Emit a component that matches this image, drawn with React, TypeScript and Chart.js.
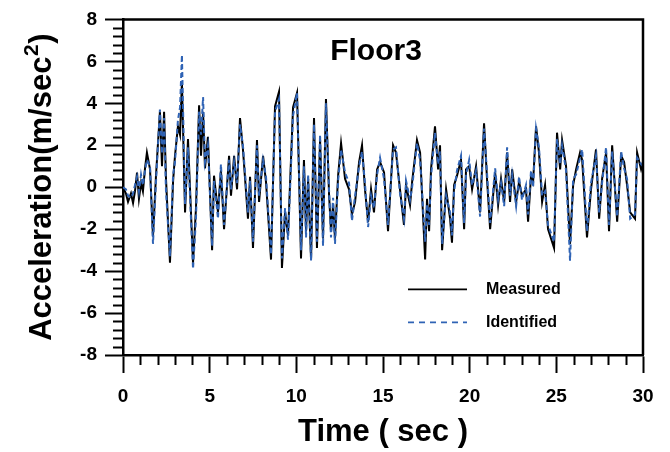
import React, { useEffect, useRef } from "react";
import { Chart, registerables } from "chart.js";

Chart.register(...registerables);

const times: number[] = [
  0, 0.17, 0.29, 0.46, 0.58, 0.69, 0.81, 0.92, 1.04, 1.15, 1.27, 1.38, 1.56, 1.73, 1.9,
  2.13, 2.25, 2.37, 2.48, 2.71, 2.89, 3.0, 3.17, 3.29, 3.4, 3.58, 3.75, 4.04, 4.21, 4.39,
  4.5, 4.62, 4.73, 4.9, 5.14, 5.25, 5.48, 5.65, 5.83, 6.12, 6.23, 6.41, 6.58, 6.75, 6.92,
  7.21, 7.33, 7.5, 7.73, 7.85, 8.08, 8.25, 8.54, 8.77, 9.0, 9.17, 9.35, 9.52, 9.81, 10.04,
  10.27, 10.44, 10.56, 10.68, 10.85, 11.02, 11.19, 11.37, 11.54, 11.71, 11.89, 12.0, 12.12,
  12.23, 12.41, 12.58, 12.81, 13.04, 13.21, 13.39, 13.62, 13.79, 13.96, 14.14, 14.31, 14.48,
  14.66, 14.83, 15.06, 15.29, 15.58, 15.75, 15.98, 16.21, 16.33, 16.56, 16.68, 16.96, 17.14,
  17.43, 17.54, 17.66, 17.77, 18.0, 18.18, 18.29, 18.41, 18.64, 18.87, 18.98, 19.1, 19.27,
  19.5, 19.68, 19.79, 19.97, 20.14, 20.37, 20.6, 20.83, 21.0, 21.18, 21.47, 21.64, 21.81,
  21.99, 22.16, 22.33, 22.45, 22.68, 22.85, 23.02, 23.25, 23.37, 23.54, 23.66, 23.83, 24.0,
  24.18, 24.35, 24.52, 24.87, 25.04, 25.22, 25.33, 25.56, 25.79, 25.97, 26.14, 26.37, 26.49,
  26.77, 27.0, 27.29, 27.47, 27.64, 27.87, 28.04, 28.22, 28.51, 28.74, 28.91, 29.08, 29.26,
  29.54, 29.66, 29.89, 30.0,
];

const measured: number[] = [
  0, -0.3, -0.7, -0.3, -0.75, -0.2, 0.7, -0.55, 0.2, -0.2, 0.9, 1.65, 0.85, -2.35, 0.5,
  3.6, 1.0, 3.6, 0.4, -3.6, 0.3, 1.5, 2.9, 2.5, 5.0, -1.2, 2.3, -3.6, -1.0, 3.9,
  1.5, 3.6, 0.9, 2.4, -3.0, 0.55, -1.2, 0.8, -2.0, 1.5, -0.4, 1.5, -0.1, 3.3, 1.8,
  -1.5, 0.5, -2.9, 2.25, -0.7, 1.5, 0.25, -3.45, 3.85, 4.55, -3.85, -1.2, -2.3, 3.8, 4.5,
  -3.4, 1.3, -2.1, 0.4, -3.45, 3.3, -2.9, 2.25, -2.45, 4.2, -0.4, -2.1, -0.85,
  -2.45, 0.55, 2.1, 0.4, -0.1, -1.3, -0.7, 1.2, 2.0, -0.1, -1.65, -0.1, -1.2,
  0.85, 1.2, 0.7, -2.1, 2.0, 1.65, -0.1, -1.8, 0.1, -0.85, 0.25, 2.25, 1.65,
  -3.45, -0.55, -2.1, 0.85, 2.9, 0.85, 2.0, -3.0, -0.1, -1.5, -2.65, 0.1, 0.55,
  1.3, -2.0, 0.85, 1.0, -0.1, 1.0, -1.2, 3.05, 0.4, -2.0, 0.7, -0.85, 0.4,
  -0.7, 1.65, -0.7, 0.85, -0.7, 0.25, -0.4, -0.1, -1.65, 0.55, 0.25, 2.9, 1.65,
  -0.7, 0.1, -2.0, -2.9, 2.6, 0.85, 2.25, 1.0, -2.7, 0.1, 0.85, 1.65, 1.3,
  -2.4, -0.1, 1.8, -1.5, 0.4, 1.65, -2.1, 2.0, -1.65, 1.5, 1.2, 0.1, -1.2,
  -1.5, 1.65, 0.85, 1.2,
];

const identified: number[] = [
  0, -0.1, -0.4, -0.5, -0.3, 0.1, 0.5, -0.2, 0.6, 0.1, 0.8, 1.3, 1.0, -2.7, 0.2,
  3.7, 1.6, 3.3, -0.2, -3.3, 0.6, 1.2, 3.2, 3.8, 6.3, -0.8, 1.9, -3.9, -1.5, 3.6,
  2.5, 4.3, 1.2, 2.0, -2.8, 0.3, -1.5, 1.1, -1.8, 1.3, -0.1, 1.2, 0.2, 3.0, 2.0,
  -1.2, 0.3, -2.6, 2.0, -0.4, 1.3, 0.5, -3.2, 3.6, 4.2, -3.4, -1.0, -2.5, 3.4, 4.5,
  -3.0, 1.0, -2.4, 0.6, -3.5, 3.0, -2.6, 2.5, -2.8, 4.0, -0.2, -2.4, -0.5,
  -2.7, 0.3, 1.8, 0.7, 0.2, -1.6, -0.4, 1.0, 1.7, 0.2, -1.9, -0.4, -1.0,
  0.6, 1.4, 0.4, -1.8, 1.8, 1.9, -0.3, -1.5, 0.3, -0.6, 0.0, 2.1, 1.3,
  -2.6, -0.8, -1.8, 0.5, 2.6, 1.1, 1.7, -2.7, -0.4, -1.2, -2.3, -0.2, 0.8,
  1.5, -1.7, 0.6, 1.3, 0.1, 0.8, -1.4, 2.8, 0.7, -1.7, 0.9, -0.6, 0.2,
  -0.9, 1.9, -0.4, 0.6, -0.9, 0.5, -0.6, 0.1, -1.3, 0.8, 0.0, 2.8, 1.9,
  -0.4, -0.2, -1.8, -2.6, 2.3, 1.1, 2.0, 0.8, -3.5, 0.4, 0.6, 1.4, 1.8,
  -2.1, 0.2, 1.5, -1.2, 0.2, 1.9, -1.8, 1.7, -1.4, 1.7, 0.9, 0.4, -1.5,
  -1.3, 1.4, 1.1, 1.0,
];

const xMajorTicks: number[] = [0, 5, 10, 15, 20, 25, 30];
const yMajorTicks: number[] = [-8, -6, -4, -2, 0, 2, 4, 6, 8];
const seriesNames: string[] = ["Measured", "Identified"];
const chartTitle = "Floor3";
const xTitle = "Time ( sec )";
const yTitleParts: string[] = ["Acceleration(m/sec", "2", ")"];

const FONT = "Arial, 'Liberation Sans', sans-serif";
const BLUE = "#2f63b5";

const decorPlugin = {
  id: "decor",
  afterDraw(chart: any) {
    const { ctx, chartArea: a, scales } = chart;
    const xs = scales.x;
    const ys = scales.y;
    ctx.save();
    ctx.strokeStyle = "#000";
    ctx.lineWidth = 2;
    ctx.beginPath();
    for (let t = 0; t <= 30; t++) {
      if (t % 5 === 0) continue;
      const px = Math.round(xs.getPixelForValue(t)) + 0.5;
      ctx.moveTo(px, a.bottom);
      ctx.lineTo(px, a.bottom + 10);
    }
    for (let i = 0; i <= 40; i++) {
      if (i % 5 === 0) continue;
      const py = Math.round(ys.getPixelForValue(-8 + i * 0.4)) + 0.5;
      ctx.moveTo(a.left - 10, py);
      ctx.lineTo(a.left, py);
    }
    ctx.stroke();
    ctx.lineWidth = 2.5;
    ctx.beginPath();
    ctx.moveTo(a.left, a.top);
    ctx.lineTo(a.right, a.top);
    ctx.lineTo(a.right, a.bottom);
    ctx.stroke();

    ctx.fillStyle = "#000";
    ctx.font = `bold 30px ${FONT}`;
    ctx.textAlign = "center";
    ctx.textBaseline = "middle";
    ctx.fillText(chartTitle, a.left + 253, a.top + 32);

    // y-axis title with a real superscript
    ctx.save();
    ctx.translate(40, (a.top + a.bottom) / 2);
    ctx.rotate(-Math.PI / 2);
    ctx.textAlign = "left";
    ctx.textBaseline = "alphabetic";
    const big = `bold 31px ${FONT}`;
    const small = `bold 21px ${FONT}`;
    ctx.font = big;
    const w1 = ctx.measureText(yTitleParts[0]).width;
    const w3 = ctx.measureText(yTitleParts[2]).width;
    ctx.font = small;
    const w2 = ctx.measureText(yTitleParts[1]).width;
    let x0 = -(w1 + w2 + w3 + 1) / 2;
    const base = 11;
    ctx.font = big;
    ctx.fillText(yTitleParts[0], x0, base);
    x0 += w1 + 0.5;
    ctx.font = small;
    ctx.fillText(yTitleParts[1], x0, base - 13);
    x0 += w2 + 0.5;
    ctx.font = big;
    ctx.fillText(yTitleParts[2], x0, base);
    ctx.restore();

    // legend
    const lx0 = a.left + 285;
    const lx1 = a.left + 344;
    const ly1 = a.top + 270;
    const ly2 = a.top + 303;
    ctx.lineWidth = 1.8;
    ctx.strokeStyle = "#000";
    ctx.beginPath();
    ctx.moveTo(lx0, ly1);
    ctx.lineTo(lx1, ly1);
    ctx.stroke();
    ctx.strokeStyle = BLUE;
    ctx.setLineDash([6, 5]);
    ctx.beginPath();
    ctx.moveTo(lx0, ly2);
    ctx.lineTo(lx1, ly2);
    ctx.stroke();
    ctx.setLineDash([]);
    ctx.font = `bold 16px ${FONT}`;
    ctx.textAlign = "left";
    ctx.textBaseline = "middle";
    ctx.fillText(seriesNames[0], a.left + 363, ly1);
    ctx.fillText(seriesNames[1], a.left + 363, ly2);
    ctx.restore();
  },
};

export default function App() {
  const ref = useRef<HTMLCanvasElement>(null);
  useEffect(() => {
    if (!ref.current) return;
    const mk = (arr: number[]) => times.map((t, i) => ({ x: t, y: arr[i] }));
    const chart = new Chart(ref.current, {
      type: "line",
      data: {
        datasets: [
          {
            label: seriesNames[0],
            data: mk(measured),
            borderColor: "#000",
            borderWidth: 2,
            pointRadius: 0,
            tension: 0,
            order: 1,
          },
          {
            label: seriesNames[1],
            data: mk(identified),
            borderColor: BLUE,
            borderWidth: 2,
            borderDash: [5, 3],
            pointRadius: 0,
            tension: 0,
            order: 0,
          },
        ],
      },
      options: {
        animation: false,
        responsive: false,
        layout: { padding: { top: 15, right: 27, left: 0, bottom: 0 } },
        plugins: { legend: { display: false }, tooltip: { enabled: false } },
        scales: {
          x: {
            type: "linear",
            min: 0,
            max: 30,
            afterBuildTicks: (s: any) => {
              s.ticks = xMajorTicks.map((v) => ({ value: v }));
            },
            afterFit: (s: any) => {
              s.height = 97;
            },
            grid: {
              drawOnChartArea: false,
              drawTicks: true,
              tickLength: 18,
              tickWidth: 2,
              tickColor: "#000",
            },
            border: { display: true, width: 2.5, color: "#000" },
            ticks: {
              color: "#000",
              padding: 12,
              maxRotation: 0,
              font: { family: FONT, size: 19, weight: "bold" },
            },
            title: {
              display: true,
              text: xTitle,
              color: "#000",
              padding: { top: 0, bottom: 1 },
              font: { family: FONT, size: 31, weight: "bold" },
            },
          },
          y: {
            type: "linear",
            min: -8,
            max: 8,
            afterBuildTicks: (s: any) => {
              s.ticks = yMajorTicks.map((v) => ({ value: v }));
            },
            afterFit: (s: any) => {
              s.width = 123;
            },
            grid: {
              drawOnChartArea: false,
              drawTicks: true,
              tickLength: 18,
              tickWidth: 2,
              tickColor: "#000",
            },
            border: { display: true, width: 2.5, color: "#000" },
            ticks: {
              color: "#000",
              padding: 8,
              font: { family: FONT, size: 19, weight: "bold" },
            },
            title: { display: false },
          },
        },
      },
      plugins: [decorPlugin],
    });
    return () => chart.destroy();
  }, []);
  return (
    <div style={{ position: "absolute", left: 0, top: 0, width: 670, height: 452, background: "#fff" }}>
      <canvas ref={ref} width={670} height={452} />
    </div>
  );
}
